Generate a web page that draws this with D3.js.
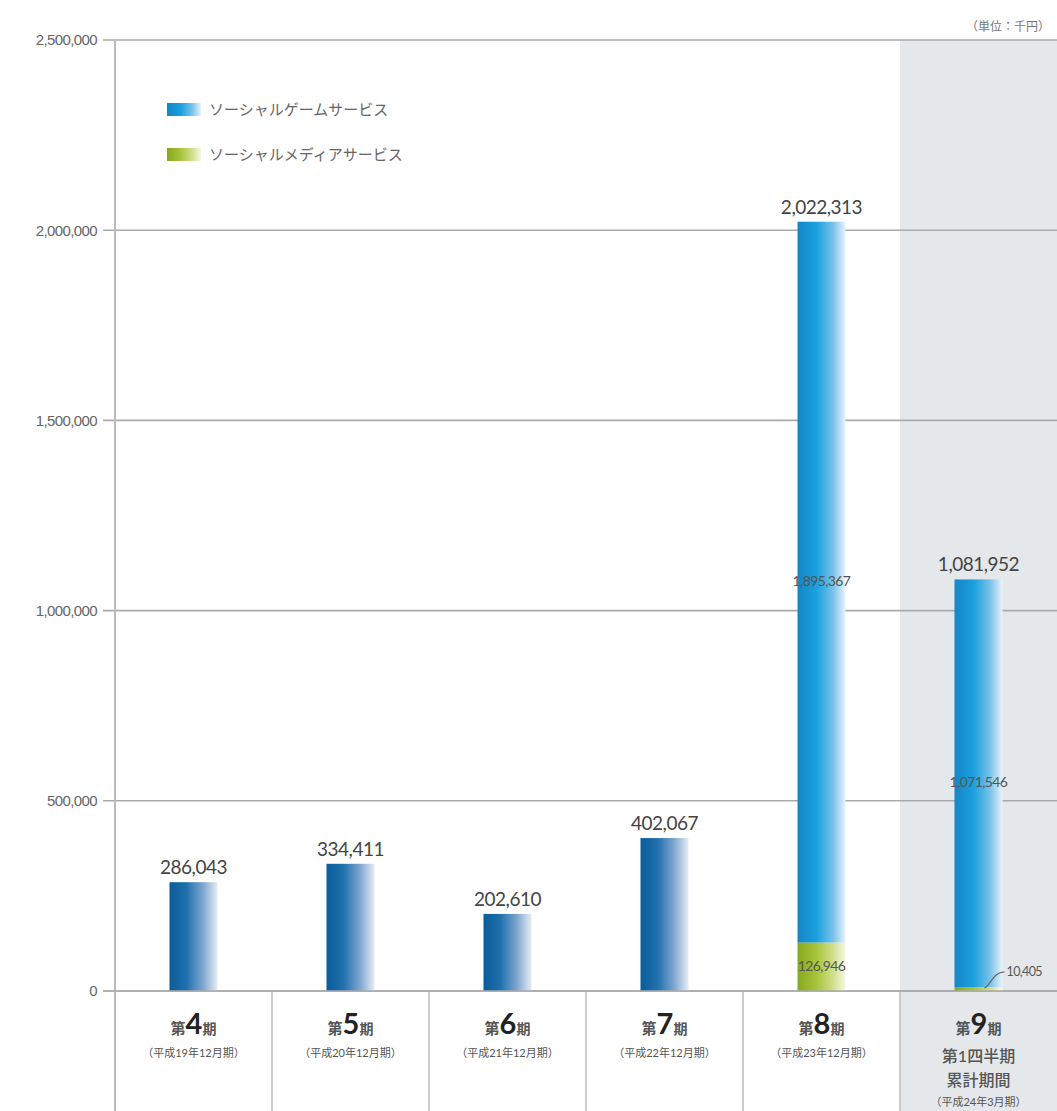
<!DOCTYPE html>
<html>
<head>
<meta charset="utf-8">
<script src="https://cdnjs.cloudflare.com/ajax/libs/d3/7.8.5/d3.min.js"></script>
<style>
    body { margin: 0; background: #fff; }
    svg { display: block; font-family: Lato, "Noto Sans CJK JP", sans-serif; }
</style>
</head>
<body>
<svg id="chart" width="1057" height="1111"></svg>
<script>
    // values in 千円
    const periodNumbers = ['4', '5', '6', '7', '8', '9'];
    const periodNotes = [
        ['（平成19年12月期）'],
        ['（平成20年12月期）'],
        ['（平成21年12月期）'],
        ['（平成22年12月期）'],
        ['（平成23年12月期）'],
        ['第1四半期', '累計期間', '（平成24年3月期）']
    ];
    const gameValues = [286043, 334411, 202610, 402067, 1895367, 1071546];
    const mediaValues = [0, 0, 0, 0, 126946, 10405];
    const totalValues = [286043, 334411, 202610, 402067, 2022313, 1081952];
    const yTicks = [0, 500000, 1000000, 1500000, 2000000, 2500000];
    const seriesNames = ['ソーシャルゲームサービス', 'ソーシャルメディアサービス'];

    const W = 1057, H = 1111;
    const LEFT = 115, RIGHT = 1057, TOP = 40, BASE = 991;
    const BAR_W = 48;

    const svg = d3.select('#chart');
    const fmt = d3.format(',');

    const x = d3.scaleBand()
        .domain(d3.range(periodNumbers.length))
        .range([LEFT, RIGHT])
        .paddingInner(0)
        .paddingOuter(0);

    const y = d3.scaleLinear()
        .domain([0, 2500000])
        .range([BASE, TOP]);

    // gradients
    const defs = svg.append('defs');
    function gradient(id, stops) {
        const g = defs.append('linearGradient').attr('id', id)
            .attr('x1', 0).attr('x2', 1).attr('y1', 0).attr('y2', 0);
        stops.forEach(([o, c]) => g.append('stop').attr('offset', o).attr('stop-color', c));
    }
    gradient('gDark', [[0, '#0a5c9a'], [0.35, '#1f70ad'], [0.7, '#7fa6cf'], [1, '#e6edf6']]);
    gradient('gGame', [[0, '#1686c6'], [0.4, '#1aa0de'], [0.75, '#7cc3ea'], [1, '#e8f4fb']]);
    gradient('gMedia', [[0, '#87a820'], [0.4, '#a7c43a'], [0.75, '#d2e08e'], [1, '#f6f8e6']]);

    // shaded last column
    svg.append('rect')
        .attr('x', x(5)).attr('y', TOP)
        .attr('width', RIGHT - x(5)).attr('height', H - TOP)
        .attr('fill', '#e4e8eb');

    // grid
    svg.append('g').selectAll('line')
        .data(yTicks)
        .join('line')
        .attr('x1', LEFT - 12).attr('x2', RIGHT)
        .attr('y1', d => y(d)).attr('y2', d => y(d))
        .attr('stroke', '#aaa').attr('stroke-width', 1.6);

    // y axis labels
    const yAxis = d3.axisLeft(y).tickValues(yTicks).tickFormat(fmt).tickSize(0).tickPadding(18);
    const ga = svg.append('g').attr('transform', `translate(${LEFT},0)`).call(yAxis);
    ga.select('.domain').remove();
    ga.selectAll('text').attr('font-size', 15).attr('fill', '#666').attr('letter-spacing', -0.6);

    // axis line and column dividers
    svg.append('line')
        .attr('x1', LEFT).attr('x2', LEFT).attr('y1', TOP).attr('y2', H)
        .attr('stroke', '#bbb').attr('stroke-width', 2);
    svg.append('g').selectAll('line')
        .data(d3.range(1, periodNumbers.length))
        .join('line')
        .attr('x1', d => x(d)).attr('x2', d => x(d))
        .attr('y1', BASE).attr('y2', H)
        .attr('stroke', '#bbb').attr('stroke-width', 1.5);

    // bars
    const cx = i => x(i) + x.bandwidth() / 2;
    const bars = svg.append('g');
    gameValues.forEach((v, i) => {
        const m = mediaValues[i];
        const fill = m > 0 ? 'url(#gGame)' : 'url(#gDark)';
        bars.append('rect')
            .attr('x', cx(i) - BAR_W / 2).attr('width', BAR_W)
            .attr('y', y(m + v)).attr('height', y(m) - y(m + v))
            .attr('fill', fill);
        if (m > 0) {
            bars.append('rect')
                .attr('x', cx(i) - BAR_W / 2).attr('width', BAR_W)
                .attr('y', y(m)).attr('height', y(0) - y(m))
                .attr('fill', 'url(#gMedia)');
        }
    });

    // baseline
    svg.append('line')
        .attr('x1', LEFT - 12).attr('x2', RIGHT).attr('y1', BASE).attr('y2', BASE)
        .attr('stroke', '#aaa').attr('stroke-width', 1.6);

    // total labels
    svg.append('g').selectAll('text')
        .data(totalValues)
        .join('text')
        .attr('x', (d, i) => cx(i))
        .attr('y', d => y(d) - 8)
        .attr('text-anchor', 'middle')
        .attr('font-size', 19)
        .attr('fill', '#444')
        .attr('letter-spacing', -0.5)
        .text(d => fmt(d));

    // segment labels for stacked bars
    gameValues.forEach((v, i) => {
        const m = mediaValues[i];
        if (m <= 0) return;
        svg.append('text')
            .attr('x', cx(i)).attr('y', y(m + v / 2) + 4)
            .attr('text-anchor', 'middle').attr('font-size', 14).attr('fill', '#555')
            .attr('letter-spacing', -0.6)
            .text(fmt(v));
        if (y(0) - y(m) > 20) {
            svg.append('text')
                .attr('x', cx(i)).attr('y', y(m / 2) + 4)
                .attr('text-anchor', 'middle').attr('font-size', 14).attr('fill', '#555')
                .attr('letter-spacing', -0.6)
                .text(fmt(m));
        } else {
            const sx = cx(i) + 6, sy = y(m / 2) - 1;
            svg.append('path')
                .attr('d', `M${sx},${sy} C${sx + 6},${sy - 2} ${sx + 8},${sy - 16} ${sx + 20},${sy - 16}`)
                .attr('fill', 'none').attr('stroke', '#666').attr('stroke-width', 1.2);
            svg.append('text')
                .attr('x', sx + 22).attr('y', sy - 12)
                .attr('font-size', 12.5).attr('fill', '#555')
                .attr('letter-spacing', -0.6)
                .text(fmt(m));
        }
    });

    // category labels
    periodNumbers.forEach((n, i) => {
        const t = svg.append('text')
            .attr('x', cx(i)).attr('y', 1034)
            .attr('text-anchor', 'middle').attr('fill', '#555');
        t.append('tspan').attr('font-size', 15).attr('font-weight', 'bold').text('第');
        t.append('tspan').attr('font-size', 29).attr('font-weight', 'bold').attr('fill', '#222').text(n);
        t.append('tspan').attr('font-size', 14).attr('font-weight', 'bold').text('期');

        const notes = periodNotes[i];
        notes.forEach((s, j) => {
            const small = s.startsWith('（');
            const yy = notes.length === 1 ? 1057 : [1062, 1086, 1106][j];
            svg.append('text')
                .attr('x', cx(i)).attr('y', yy)
                .attr('text-anchor', 'middle')
                .attr('font-size', small ? 11 : 16)
                .attr('font-weight', small ? 'normal' : 500)
                .attr('fill', '#555')
                .text(s);
        });
    });

    // legend
    const legend = svg.append('g').attr('transform', 'translate(167,103)');
    ['url(#gGame)', 'url(#gMedia)'].forEach((f, i) => {
        legend.append('rect')
            .attr('x', 0).attr('y', i * 45).attr('width', 34).attr('height', 13)
            .attr('fill', f);
        legend.append('text')
            .attr('x', 42).attr('y', i * 45 + 12)
            .attr('font-size', 15).attr('fill', '#666')
            .text(seriesNames[i]);
    });

    // unit
    svg.append('text')
        .attr('x', 1050).attr('y', 31)
        .attr('text-anchor', 'end').attr('font-size', 12).attr('fill', '#777')
        .text('（単位：千円）');
</script>
</body>
</html>
